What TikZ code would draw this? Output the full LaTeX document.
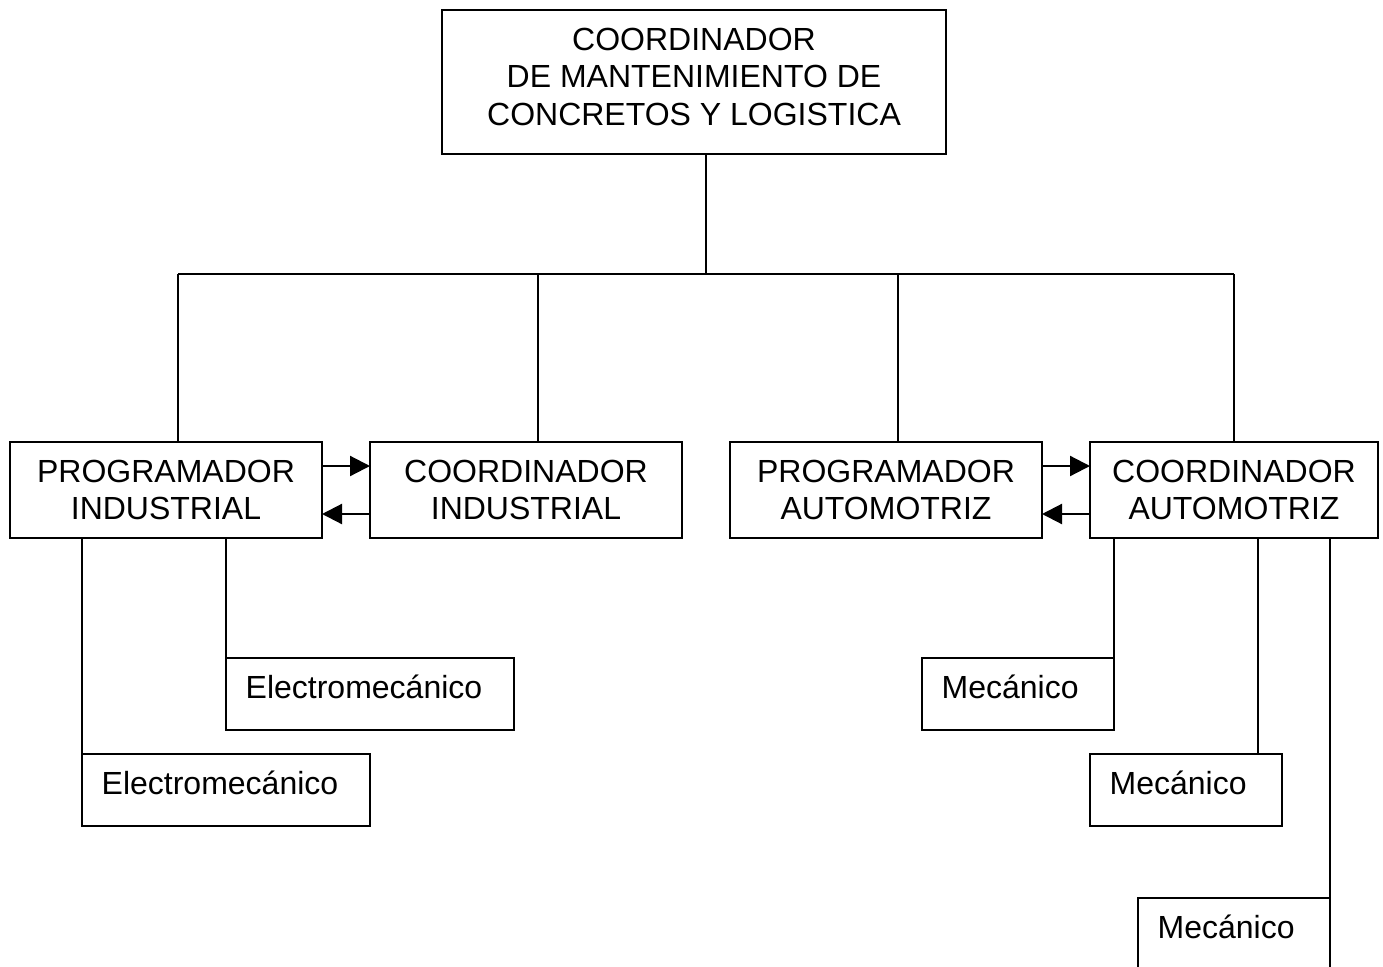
\documentclass[tikz,border=0pt]{standalone}
\usepackage{fontspec}
\setmainfont{Liberation Sans}
\usetikzlibrary{arrows.meta}
\newcommand\mylines[1]{\begin{tabular}[t]{@{}c@{}}#1\end{tabular}}
\begin{document}
\begin{tikzpicture}[x=1pt,y=-1pt,
  box/.style={draw, line width=2.2pt, inner sep=0pt, outer sep=0pt, anchor=north west},
  wire/.style={line width=2.2pt},
  arr/.style={line width=2.2pt, -{Triangle[length=20pt,width=20pt]}},
  txt/.style={inner sep=0pt, anchor=base, font=\fontsize{32}{37}\selectfont},
  ltxt/.style={txt, anchor=base west}]
\clip (0,0) rectangle (1383,966);
% boxes
\node[box, minimum width=504pt, minimum height=144pt] (top) at (442,10) {};
\node[box, minimum width=312pt, minimum height=96pt] (PI) at (10,442) {};
\node[box, minimum width=312pt, minimum height=96pt] (CI) at (370,442) {};
\node[box, minimum width=312pt, minimum height=96pt] (PA) at (730,442) {};
\node[box, minimum width=288pt, minimum height=96pt] (CA) at (1090,442) {};
\node[box, minimum width=288pt, minimum height=72pt] (E1) at (226,658) {};
\node[box, minimum width=288pt, minimum height=72pt] (E2) at (82,754) {};
\node[box, minimum width=192pt, minimum height=72pt] (M1) at (922,658) {};
\node[box, minimum width=192pt, minimum height=72pt] (M2) at (1090,754) {};
\node[box, minimum width=192pt, minimum height=72pt] (M3) at (1138,898) {};
% texts
\node[txt] (ttop) at (694,51) {\mylines{COORDINADOR\\DE MANTENIMIENTO DE\\CONCRETOS Y LOGISTICA}};
\node[txt] (tPI) at (166,482) {\mylines{PROGRAMADOR\\INDUSTRIAL}};
\node[txt] (tCI) at (526,482) {\mylines{COORDINADOR\\INDUSTRIAL}};
\node[txt] (tPA) at (886,482) {\mylines{PROGRAMADOR\\AUTOMOTRIZ}};
\node[txt] (tCA) at (1234,482) {\mylines{COORDINADOR\\AUTOMOTRIZ}};
\node[ltxt] (tE1) at (245.5,698) {Electromecánico};
\node[ltxt] (tE2) at (101.5,794) {Electromecánico};
\node[ltxt] (tM1) at (941.5,698) {Mecánico};
\node[ltxt] (tM2) at (1109.5,794) {Mecánico};
\node[ltxt] (tM3) at (1157.5,938) {Mecánico};
% bus
\coordinate (bc) at (706,274);
\coordinate (b1) at (178,274);
\coordinate (b2) at (538,274);
\coordinate (b3) at (898,274);
\coordinate (b4) at (1234,274);
\draw[wire] (top.south -| bc) -- (bc);
\draw[wire] (b1) -- (b4);
\draw[wire] (b1) -- (b1 |- PI.north);
\draw[wire] (b2) -- (b2 |- CI.north);
\draw[wire] (b3) -- (b3 |- PA.north);
\draw[wire] (b4) -- (b4 |- CA.north);
% arrows
\draw[arr] ([yshift=24pt]PI.east) -- ([yshift=24pt]CI.west);
\draw[arr] ([yshift=-24pt]CI.west) -- ([yshift=-24pt]PI.east);
\draw[arr] ([yshift=24pt]PA.east) -- ([yshift=24pt]CA.west);
\draw[arr] ([yshift=-24pt]CA.west) -- ([yshift=-24pt]PA.east);
% sub lines
\draw[wire] (PI.south -| E2.north west) -- (E2.north west);
\draw[wire] (PI.south -| E1.north west) -- (E1.north west);
\draw[wire] (CA.south -| M1.north east) -- (M1.north east);
\coordinate (m2) at ([xshift=-24pt]M2.north east);
\draw[wire] (CA.south -| m2) -- (m2);
\draw[wire] (CA.south -| M3.north east) -- (M3.north east);
\end{tikzpicture}
\end{document}
